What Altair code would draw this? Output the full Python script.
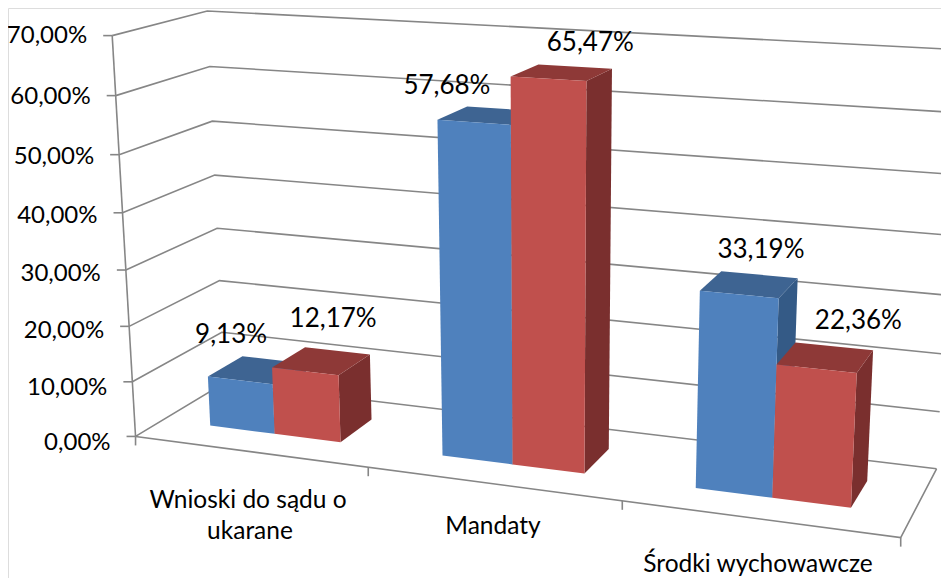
import numpy as np
import pandas as pd
import altair as alt

categories = ["Wnioski do sądu o ukarane", "Mandaty", "Środki wychowawcze"]
series_a = [9.13, 57.68, 33.19]
series_b = [12.17, 65.47, 22.36]
y_ticks = [0, 10, 20, 30, 40, 50, 60, 70]

FONT = "Lato"
GRID = "#868686"
BLUE = {"front": "#4F81BD", "top": "#3E6492", "side": "#345A86"}
RED = {"front": "#C0504D", "top": "#8E3937", "side": "#7A2F2E"}

# camera calibration: (category pos, depth, value) -> page pixel
calib = [
    ((0, 0, 0), (135, 436)), ((0, 0, 10), (131.7, 381.7)), ((0, 0, 20), (128.7, 326)),
    ((0, 0, 50), (119.5, 154.5)), ((0, 0, 60), (116.5, 95.5)), ((0, 0, 70), (113, 36)),
    ((0, 1, 70), (206.7, 10.7)), ((0, 1, 60), (209, 66.5)), ((0, 1, 50), (211.7, 121)),
    ((0, 1, 0), (226, 384)), ((3, 1, 0), (937, 468)), ((3, 1, 10), (939, 411.7)),
    ((3, 1, 20), (942.7, 354)), ((3, 1, 30), (946, 295)), ((3, 1, 70), (960, 50)),
    ((3, 0, 0), (901, 538)), ((1, 0, 0), (368, 467.5)), ((2, 0, 0), (622, 501)),
]
A, B = [], []
for (u, d, v), (px, py) in calib:
    A.append([u, d, v, 1, 0, 0, 0, 0, -px * u, -px * d, -px * v])
    B.append(px)
    A.append([0, 0, 0, 0, u, d, v, 1, -py * u, -py * d, -py * v])
    B.append(py)
p = np.linalg.lstsq(np.array(A, float), np.array(B, float), rcond=None)[0]
P = np.append(p, 1.0).reshape(3, 4)


def proj(u, d, v):
    w = P @ np.array([u, d, v, 1.0])
    return float(w[0] / w[2]), float(w[1] / w[2])


# bars
BW = 1 / 3.5
GAP = 0.75 * BW - 0.003
D0, D1 = 0.30, 0.70

polys = []
pid = 0


def add_poly(face, colour, corners):
    global pid
    for k, c in enumerate(corners + corners[:1]):
        x, y = proj(*c)
        polys.append({"pid": pid, "k": k, "x": x, "y": y, "face": face, "colour": colour})
    pid += 1


for i, (a, b) in enumerate(zip(series_a, series_b)):
    for s, (val, pal) in enumerate(((a, BLUE), (b, RED))):
        u0 = i + GAP + s * BW
        u1 = u0 + BW
        add_poly(f"{s}side", pal["side"], [(u1, D0, 0), (u1, D1, 0), (u1, D1, val), (u1, D0, val)])
        add_poly(f"{s}top", pal["top"], [(u0, D0, val), (u1, D0, val), (u1, D1, val), (u0, D1, val)])
        add_poly(f"{s}front", pal["front"], [(u0, D0, 0), (u1, D0, 0), (u1, D0, val), (u0, D0, val)])
polys = pd.DataFrame(polys)

# grid lines
lines = []
lid = 0


def add_line(pts):
    global lid
    for k, (x, y) in enumerate(pts):
        lines.append({"lid": lid, "k": k, "x": x, "y": y})
    lid += 1


for v in y_ticks:
    f = proj(0, 0, v)
    add_line([f, proj(0, 1, v), proj(3, 1, v)])
    add_line([(f[0] - 9, f[1]), f])
add_line([proj(0, 0, 0), proj(0, 0, 70)])
add_line([proj(0, 0, 0), proj(3, 0, 0), proj(3, 1, 0)])
for u in range(4):
    b = proj(u, 0, 0)
    add_line([b, (b[0], b[1] + 9)])
lines = pd.DataFrame(lines)

xs = alt.Scale(domain=[8, 941], range=[0, 933], nice=False, zero=False)
ys = alt.Scale(domain=[8, 578], range=[0, 570], nice=False, zero=False)
X = alt.X("x:Q", scale=xs, axis=None)
Y = alt.Y("y:Q", scale=ys, axis=None)

grid = alt.Chart(lines).mark_line(color=GRID, strokeWidth=1.6, clip=True).encode(
    x=X, y=Y, detail="lid:N", order="k:Q")

layers = [grid]
for face in ["0side", "0top", "0front", "1side", "1top", "1front"]:
    sub = polys[polys.face == face]
    layers.append(
        alt.Chart(sub).mark_line(fill=sub.colour.iloc[0], strokeWidth=0, opacity=1).encode(
            x=X, y=Y, detail="pid:N", order="k:Q"))

# value-axis labels
ax = []
for v in y_ticks:
    x, y = proj(0, 0, v)
    ax.append({"x": x - 25, "y": y + (70 - v) / 70 * 7, "t": f"{v},00%"})
layers.append(alt.Chart(pd.DataFrame(ax)).mark_text(
    font=FONT, fontSize=24, align="right", baseline="middle", color="#000000"
).encode(x=X, y=Y, text="t:N"))

# data labels
offs_a = [(-9, -45), (-27, -36), (22, -44)]
offs_b = [(28, -52), (42, -36), (42, -48)]
dl = []
for i in range(3):
    for vals, offs, s in ((series_a, offs_a, 0), (series_b, offs_b, 1)):
        u = i + GAP + s * BW + BW / 2
        x, y = proj(u, D0, vals[i])
        dl.append({"x": x + offs[i][0], "y": y + offs[i][1], "t": f"{vals[i]:.2f}%".replace(".", ",")})
layers.append(alt.Chart(pd.DataFrame(dl)).mark_text(
    font=FONT, fontSize=26, align="center", baseline="middle", color="#000000"
).encode(x=X, y=Y, text="t:N"))

# category labels
cat_lines = ["Wnioski do sądu o", "ukarane", "Mandaty", "Środki wychowawcze"]
cat_pos = [(248, 501), (250, 532), (493, 527), (758, 565)]
cl = [{"x": px, "y": py, "t": t} for t, (px, py) in zip(cat_lines, cat_pos)]
layers.append(alt.Chart(pd.DataFrame(cl)).mark_text(
    font=FONT, fontSize=24.5, align="center", baseline="middle", color="#000000"
).encode(x=X, y=Y, text="t:N"))

chart = alt.layer(*layers).properties(
    width=933, height=570, padding=0, autosize=alt.AutoSizeParams(type="none")
).configure_view(stroke=None).configure(background="white")
chart.save("out.html", embed_options={"renderer": "svg", "actions": False})
